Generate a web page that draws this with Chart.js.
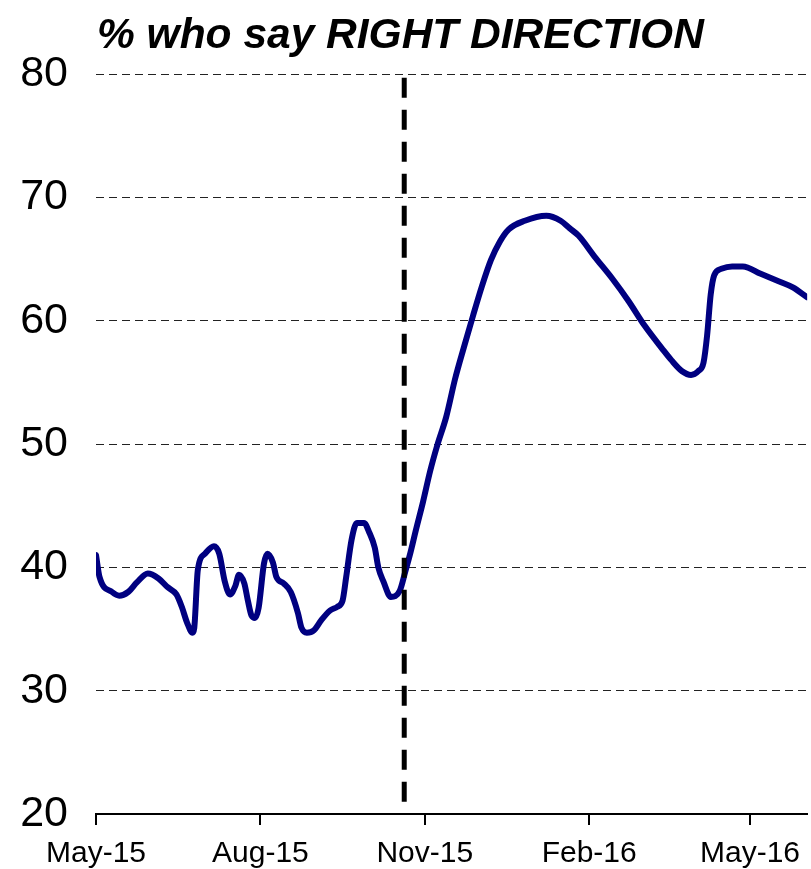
<!DOCTYPE html>
<html>
<head>
<meta charset="utf-8">
<title>% who say RIGHT DIRECTION</title>
<script src="https://cdn.jsdelivr.net/npm/chart.js@4.4.1/dist/chart.umd.min.js"></script>
<style>
    html, body { margin: 0; padding: 0; background: #ffffff; }
    #wrap { width: 811px; height: 869px; position: relative; }
</style>
</head>
<body>
<div id="wrap"><canvas id="rightDirection"></canvas></div>
<script>
// days counted from 1 May 2015
const days = [
    0, 2, 9, 13, 18, 23, 29, 35, 40, 45, 48, 51, 54, 55, 57, 61, 66, 69, 72, 75,
    78, 80, 83, 85, 87, 89, 91, 94, 96, 99, 101, 105, 109, 113, 115, 118, 122, 126, 131, 135,
    138, 140, 143, 146, 150, 153, 156, 158, 161, 165, 170, 173, 176, 179, 183, 187, 191, 196, 201, 206,
    211, 216, 221, 226, 231, 240, 252, 260, 265, 270, 279, 289, 298, 307, 317, 322, 328, 333, 337, 340,
    342, 344, 346, 350, 356, 362, 372, 382, 390, 398
];
const rightDirection = [
    41.0, 39.2, 38.0, 37.7, 38.0, 38.8, 39.5, 39.1, 38.4, 37.8, 36.8, 35.5, 34.7, 35.1, 39.8, 41.1, 41.7, 41.1, 38.9, 37.8,
    38.5, 39.4, 38.7, 37.3, 36.1, 35.9, 36.7, 40.3, 41.1, 40.4, 39.2, 38.7, 38.0, 36.3, 35.1, 34.7, 34.9, 35.7, 36.5, 36.8,
    37.3, 39.2, 42.2, 43.6, 43.6, 42.8, 41.6, 40.0, 38.8, 37.6, 38.1, 39.6, 41.2, 43.0, 45.3, 47.8, 49.9, 52.2, 55.3, 57.9,
    60.4, 62.8, 64.9, 66.4, 67.4, 68.1, 68.5, 68.1, 67.5, 66.9, 65.2, 63.4, 61.6, 59.6, 57.7, 56.8, 55.9, 55.6, 55.9, 56.6,
    58.8, 62.1, 63.7, 64.2, 64.4, 64.4, 63.8, 63.2, 62.7, 61.9
];

// x axis tick labels and their positions (days from 1 May 2015)
const tickDays = [0, 92, 184, 276, 366];
const tickLabels = ['May-15', 'Aug-15', 'Nov-15', 'Feb-16', 'May-16'];

// the vertical dashed marker (about 20 Oct 2015), drawn top to bottom
const markerDay = [172.5, 172.5];
const markerRange = [79.7, 20.4];

const titleText = '% who say RIGHT DIRECTION';
const baseFont = 'Arial, "Liberation Sans", sans-serif';

const titlePlugin = {
    id: 'leftTitle',
    afterDraw(chart) {
        const ctx = chart.ctx;
        ctx.save();
        ctx.font = 'italic bold 42.5px ' + baseFont;
        ctx.fillStyle = '#000000';
        ctx.textAlign = 'left';
        ctx.textBaseline = 'alphabetic';
        ctx.fillText(titleText, 97, 48);
        ctx.restore();
    }
};

const ctx = document.getElementById('rightDirection').getContext('2d');

new Chart(ctx, {
    type: 'line',
    data: {
        datasets: [
            {
                data: markerDay.map((d, i) => ({ x: d, y: markerRange[i] })),
                borderColor: '#000000',
                borderWidth: 5,
                borderDash: [20, 12],
                pointRadius: 0,
                fill: false
            },
            {
                data: days.map((d, i) => ({ x: d, y: rightDirection[i] })),
                borderColor: '#000080',
                borderWidth: 6,
                pointRadius: 0,
                cubicInterpolationMode: 'monotone',
                borderCapStyle: 'round',
                borderJoinStyle: 'round',
                fill: false
            }
        ]
    },
    options: {
        responsive: true,
        maintainAspectRatio: false,
        animation: false,
        layout: { padding: { top: 74, right: 0, bottom: 0, left: 0 } },
        plugins: {
            legend: { display: false },
            tooltip: { enabled: false },
            title: { display: false }
        },
        scales: {
            x: {
                type: 'linear',
                min: 0,
                max: 398,
                afterBuildTicks: (scale) => {
                    scale.ticks = tickDays.map(v => ({ value: v }));
                },
                afterFit: (scale) => { scale.height = 55; },
                border: { display: true, color: '#000000', width: 2 },
                grid: {
                    drawOnChartArea: false,
                    drawTicks: true,
                    tickLength: 11,
                    color: '#000000',
                    lineWidth: 2
                },
                ticks: {
                    autoSkip: false,
                    maxRotation: 0,
                    padding: 11,
                    color: '#000000',
                    font: { family: baseFont, size: 30 },
                    callback: (value) => {
                        const i = tickDays.indexOf(value);
                        return i >= 0 ? tickLabels[i] : '';
                    }
                }
            },
            y: {
                min: 20,
                max: 80,
                afterFit: (scale) => { scale.width = 96; },
                border: { display: false, dash: [8, 5] },
                grid: {
                    drawTicks: false,
                    color: (c) => (c.tick && c.tick.value === 20 ? 'rgba(0,0,0,0)' : '#222222'),
                    lineWidth: 1
                },
                ticks: {
                    stepSize: 10,
                    padding: 28,
                    color: '#000000',
                    font: { family: baseFont, size: 43 }
                }
            }
        }
    },
    plugins: [titlePlugin]
});
</script>
</body>
</html>
